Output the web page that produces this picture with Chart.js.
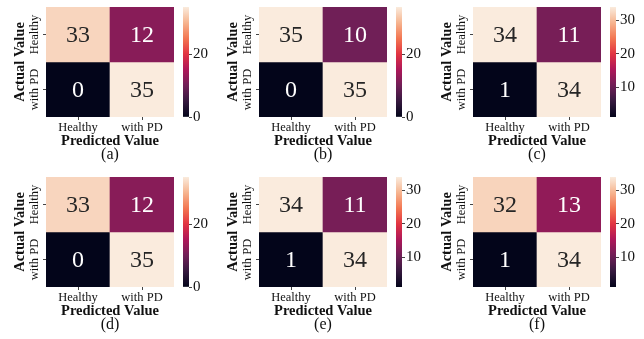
<!DOCTYPE html>
<html>
<head>
<meta charset="utf-8">
<script src="https://cdn.jsdelivr.net/npm/chart.js@4.4.1/dist/chart.umd.min.js"></script>
<style>
  html, body { margin: 0; padding: 0; background: #fff; }
  body { width: 644px; height: 339px; position: relative; overflow: hidden; }
  canvas { position: absolute; }
</style>
</head>
<body>
<script>
// ---- data: six confusion matrices (rows = actual, columns = predicted) ----
const classes = ['Healthy', 'with PD'];
const captions = ['(a)', '(b)', '(c)', '(d)', '(e)', '(f)'];

const matrixA = [[33, 12], [0, 35]];
const matrixB = [[35, 10], [0, 35]];
const matrixC = [[34, 11], [1, 34]];
const matrixD = [[33, 12], [0, 35]];
const matrixE = [[34, 11], [1, 34]];
const matrixF = [[32, 13], [1, 34]];

const colorbarTicksA = [0, 20];
const colorbarTicksB = [0, 20];
const colorbarTicksC = [10, 20, 30];
const colorbarTicksD = [0, 20];
const colorbarTicksE = [10, 20, 30];
const colorbarTicksF = [10, 20, 30];

const matrices = [matrixA, matrixB, matrixC, matrixD, matrixE, matrixF];
const colorbarTicks = [colorbarTicksA, colorbarTicksB, colorbarTicksC,
                       colorbarTicksD, colorbarTicksE, colorbarTicksF];

// ---- styling ----
const FONT = "'Liberation Serif', 'Times New Roman', serif";
const TEXT = '#111';
const TICK_MARK = '#444';

// "rocket" sequential colour map
const ROCKET = [
  [0.000, [3, 5, 26]],
  [0.143, [53, 25, 62]],
  [0.286, [112, 31, 87]],
  [0.429, [173, 23, 89]],
  [0.571, [225, 51, 66]],
  [0.714, [243, 118, 81]],
  [0.857, [246, 180, 143]],
  [1.000, [250, 235, 221]]
];
function rocketRGB(t) {
  t = Math.max(0, Math.min(1, t));
  for (let i = 1; i < ROCKET.length; i++) {
    const [p1, c1] = ROCKET[i];
    const [p0, c0] = ROCKET[i - 1];
    if (t <= p1) {
      const f = (t - p0) / (p1 - p0);
      return c0.map((v, k) => Math.round(v + (c1[k] - v) * f));
    }
  }
  return ROCKET[ROCKET.length - 1][1];
}
const rgbStr = c => `rgb(${c[0]},${c[1]},${c[2]})`;
function luminance(c) {
  const lin = c.map(v => { v /= 255; return v <= 0.03928 ? v / 12.92 : Math.pow((v + 0.055) / 1.055, 2.4); });
  return 0.2126 * lin[0] + 0.7152 * lin[1] + 0.0722 * lin[2];
}

// ---- layout ----
const COL_LEFT = [46, 259, 473];
const ROW_TOP = [7, 177];
const HM_W = 128, HM_H = 110;
const AX_W = 46;          // room for the y title and row labels
const X_AX_H = 28;        // room for column labels and x title
const CAP_H = 20;         // caption line
const PAD_T = 4, PAD_R = 4;
const CB_GAP = 9, CB_W = 6, CB_AX_W = 30, CB_PAD = 10;

function addCanvas(left, top, w, h) {
  const c = document.createElement('canvas');
  c.width = w; c.height = h;
  c.style.left = left + 'px'; c.style.top = top + 'px';
  c.style.width = w + 'px'; c.style.height = h + 'px';
  document.body.appendChild(c);
  return c;
}

// writes the count in the middle of each cell
const cellText = {
  id: 'cellText',
  afterDatasetsDraw(chart, args, opts) {
    const ctx = chart.ctx;
    ctx.save();
    ctx.font = `24px ${FONT}`;
    ctx.textAlign = 'center';
    ctx.textBaseline = 'middle';
    chart.data.datasets.forEach((ds, r) => {
      chart.getDatasetMeta(r).data.forEach((bar, c) => {
        const v = opts.matrix[r][c];
        const col = rocketRGB((v - opts.vmin) / (opts.vmax - opts.vmin));
        ctx.fillStyle = luminance(col) > 0.408 ? '#262626' : '#ffffff';
        ctx.fillText(String(v), bar.x, (bar.y + bar.base) / 2 + 1);
      });
    });
    ctx.restore();
  }
};

// row labels, written upright along the left side
const rowLabels = {
  id: 'rowLabels',
  afterDraw(chart) {
    const ctx = chart.ctx;
    const y = chart.scales.y;
    const n = classes.length;
    ctx.save();
    ctx.font = `12.5px ${FONT}`;
    ctx.fillStyle = TEXT;
    ctx.textAlign = 'center';
    ctx.textBaseline = 'middle';
    classes.forEach((name, r) => {
      const py = y.getPixelForValue(n - 1 - r + 0.5);
      ctx.save();
      ctx.translate(chart.chartArea.left - 11, py);
      ctx.rotate(-Math.PI / 2);
      ctx.fillText(name, 0, 0);
      ctx.restore();
    });
    ctx.restore();
  }
};

function drawPanel(idx) {
  const matrix = matrices[idx];
  const ticks = colorbarTicks[idx];
  const col = idx % 3, row = Math.floor(idx / 3);
  const hmLeft = COL_LEFT[col], hmTop = ROW_TOP[row];
  const flat = matrix.flat();
  const vmin = Math.min(...flat), vmax = Math.max(...flat);
  const n = classes.length;

  // ---- heatmap: one floating bar per cell ----
  const hmCanvas = addCanvas(hmLeft - AX_W, hmTop - PAD_T,
    AX_W + HM_W + PAD_R, PAD_T + HM_H + X_AX_H + CAP_H);
  new Chart(hmCanvas, {
    type: 'bar',
    data: {
      labels: classes,
      datasets: classes.map((rowName, r) => ({
        label: rowName,
        data: matrix[r].map(() => [n - 1 - r, n - r]),
        backgroundColor: matrix[r].map(v => rgbStr(rocketRGB((v - vmin) / (vmax - vmin)))),
        borderWidth: 0,
        barPercentage: 1,
        categoryPercentage: 1
      }))
    },
    options: {
      responsive: false,
      animation: false,
      events: [],
      layout: { padding: { top: PAD_T, right: PAD_R, left: 0, bottom: 0 } },
      plugins: {
        legend: { display: false },
        tooltip: { enabled: false },
        title: {
          display: true,
          text: captions[idx],
          position: 'bottom',
          fullSize: false,
          color: TEXT,
          font: { family: FONT, size: 16, weight: 'normal', lineHeight: 1 },
          padding: { top: 2, bottom: 2 }
        },
        cellText: { matrix, vmin, vmax }
      },
      scales: {
        x: {
          stacked: true,
          offset: true,
          grid: { display: true, drawOnChartArea: false, offset: false, tickLength: 3, color: TICK_MARK },
          border: { display: false },
          ticks: { color: TEXT, padding: 1, font: { family: FONT, size: 12.5, lineHeight: 1 }, maxRotation: 0 },
          title: {
            display: true, text: 'Predicted Value', color: TEXT,
            font: { family: FONT, size: 14.5, weight: 'bold', lineHeight: 1 },
            padding: { top: 0, bottom: -3 }
          },
          afterFit: s => { s.height = X_AX_H; }
        },
        y: {
          type: 'linear',
          stacked: false,
          min: 0,
          max: n,
          afterBuildTicks: s => { s.ticks = classes.map((_, r) => ({ value: r + 0.5 })); },
          grid: { display: true, drawOnChartArea: false, tickLength: 3, color: TICK_MARK },
          border: { display: false },
          ticks: { display: false },
          title: {
            display: true, text: 'Actual Value', color: TEXT,
            font: { family: FONT, size: 14.5, weight: 'bold', lineHeight: 1 },
            padding: { top: 12.5, bottom: 0 }
          },
          afterFit: s => { s.width = AX_W; }
        }
      }
    },
    plugins: [cellText, rowLabels]
  });

  // ---- colour bar: a single floating bar spanning the value range ----
  const cbLeft = hmLeft + HM_W + CB_GAP;
  const cbCanvas = addCanvas(cbLeft, hmTop - CB_PAD, CB_W + CB_AX_W, CB_PAD + HM_H + CB_PAD);
  new Chart(cbCanvas, {
    type: 'bar',
    data: {
      labels: [''],
      datasets: [{
        data: [[vmin, vmax]],
        borderWidth: 0,
        barPercentage: 1,
        categoryPercentage: 1,
        backgroundColor: (c) => {
          const chart = c.chart;
          if (!chart.chartArea) return 'rgba(0,0,0,0)';
          const y = chart.scales.y;
          const g = chart.ctx.createLinearGradient(0, y.getPixelForValue(vmin), 0, y.getPixelForValue(vmax));
          for (let i = 0; i <= 40; i++) g.addColorStop(i / 40, rgbStr(rocketRGB(i / 40)));
          return g;
        }
      }]
    },
    options: {
      responsive: false,
      animation: false,
      events: [],
      layout: { padding: { top: CB_PAD, bottom: CB_PAD, left: 0, right: 0 } },
      plugins: { legend: { display: false }, tooltip: { enabled: false } },
      scales: {
        x: { display: false, offset: true },
        y: {
          position: 'right',
          min: vmin,
          max: vmax,
          afterBuildTicks: s => { s.ticks = ticks.map(v => ({ value: v })); },
          grid: { display: true, drawOnChartArea: false, tickLength: 3, color: TICK_MARK },
          border: { display: false },
          ticks: { color: TEXT, padding: 1, font: { family: FONT, size: 15, lineHeight: 1 } },
          afterFit: s => { s.width = CB_AX_W; }
        }
      }
    }
  });
}

for (let i = 0; i < matrices.length; i++) drawPanel(i);
</script>
</body>
</html>
